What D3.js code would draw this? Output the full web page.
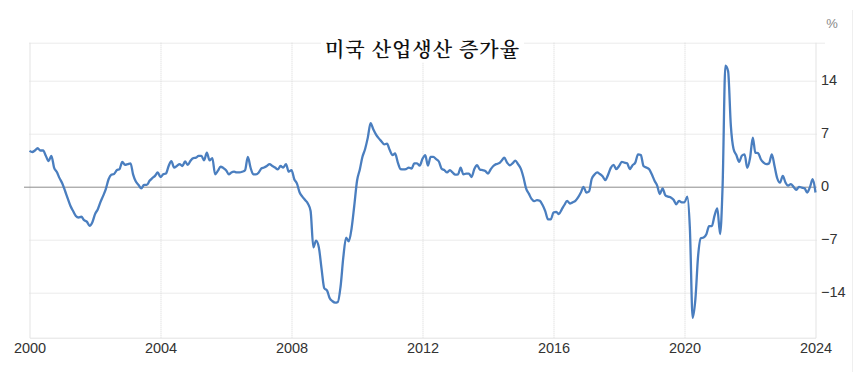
<!DOCTYPE html>
<html>
<head>
<meta charset="utf-8">
<script src="https://cdn.jsdelivr.net/npm/d3@7"></script>
<style>
    html, body { margin: 0; padding: 0; background: #fff; }
    #chart { width: 863px; height: 385px; }
    .tick text { font-family: "Liberation Sans", Arial, sans-serif; font-size: 14.5px; fill: #333; }
</style>
</head>
<body>
<div id="chart"></div>
<script>
//Datos (variación interanual mensual, %)
let y2000 = [4.75, 4.6, 4.8, 5.1, 4.8, 4.8, 4.1, 3.4, 4.1, 2.55, 1.95, 1.15];
let y2001 = [0.45, -0.55, -1.5, -2.5, -3.2, -3.85, -4.05, -3.95, -4.4, -4.6, -5.15, -4.7];
let y2002 = [-3.6, -2.95, -2.05, -1.2, -0.3, 1.0, 1.6, 1.7, 2.2, 2.35, 3.3, 2.9];
let y2003 = [3.0, 3.1, 1.65, 0.7, 0.25, -0.2, 0.25, 0.25, 0.8, 1.15, 1.45, 1.9];
let y2004 = [1.3, 1.65, 1.75, 2.75, 3.4, 2.55, 2.75, 3.0, 2.75, 3.35, 2.9, 3.45];
let y2005 = [3.8, 3.85, 4.1, 4.1, 3.5, 4.5, 3.5, 3.8, 1.65, 2.1, 2.65, 2.5];
let y2006 = [2.2, 1.65, 1.9, 2.0, 1.9, 1.9, 2.0, 2.2, 3.95, 2.55, 1.65, 1.65];
let y2007 = [1.9, 2.45, 2.55, 2.75, 3.0, 2.75, 2.55, 2.3, 2.75, 2.55, 3.0, 2.0];
let y2008 = [2.2, 1.0, 0.45, -0.75, -1.3, -1.75, -2.2, -3.2, -8.0, -7.1, -8.0, -10.8];
let y2009 = [-13.4, -13.7, -14.7, -15.1, -15.3, -15.2, -13.2, -9.3, -6.7, -7.2, -5.5, -2.5];
let y2010 = [0.8, 2.3, 3.9, 5.0, 6.5, 8.4, 7.6, 6.9, 6.4, 6.0, 5.6, 5.7];
let y2011 = [4.85, 4.2, 4.4, 3.2, 2.35, 2.3, 2.35, 2.55, 2.4, 3.1, 3.1, 2.8];
let y2012 = [3.7, 4.2, 2.8, 3.95, 3.95, 3.65, 3.35, 2.4, 2.2, 1.9, 2.2, 1.9];
let y2013 = [1.6, 1.65, 2.55, 1.65, 1.75, 1.75, 1.3, 2.35, 2.85, 2.3, 2.2, 2.1];
let y2014 = [1.75, 2.35, 2.75, 3.0, 3.1, 3.45, 3.85, 3.2, 2.85, 3.1, 3.45, 3.0];
let y2015 = [2.4, 1.2, -0.2, -0.9, -1.6, -1.9, -1.75, -1.85, -2.4, -3.2, -4.3, -4.3];
let y2016 = [-3.4, -3.3, -3.6, -3.0, -2.4, -1.85, -2.2, -2.05, -1.85, -1.4, -0.75, 0.0];
let y2017 = [-0.75, -0.6, 1.0, 1.6, 1.9, 1.7, 1.4, 0.9, 1.6, 2.5, 2.9, 2.35];
let y2018 = [2.75, 3.3, 3.2, 3.1, 2.35, 2.85, 3.2, 4.3, 4.2, 2.75, 2.55, 2.35];
let y2019 = [1.65, 0.8, 0.2, -0.95, -0.2, -1.1, -1.3, -1.4, -1.7, -2.3, -1.85, -2.05];
let y2020 = [-2.05, -1.3, -5.5, -17.3, -14.9, -9.1, -6.8, -6.7, -6.25, -5.2, -5.2, -3.8];
let y2021 = [-2.85, -6.25, 0.15, 16.0, 15.3, 8.05, 5.0, 4.2, 3.3, 4.1, 4.3, 2.5];
let y2022 = [3.8, 6.5, 4.5, 4.45, 3.65, 3.2, 3.0, 3.1, 4.3, 2.75, 1.1, 0.55];
let y2023 = [1.45, 0.55, 0.15, 0.35, 0.0, -0.4, 0.0, -0.1, -0.2, -0.75, 0.0, 1.0];
let y2024 = [-0.75];

let xTickYears = [2000, 2004, 2008, 2012, 2016, 2020, 2024];
let yTicks = [-14, -7, 0, 7, 14];
let titulo = '미국 산업생산 증가율';
let unidad = '%';

let valores = [].concat(y2000, y2001, y2002, y2003, y2004, y2005, y2006, y2007, y2008,
    y2009, y2010, y2011, y2012, y2013, y2014, y2015, y2016, y2017, y2018, y2019,
    y2020, y2021, y2022, y2023, y2024);

let data = valores.map(function(v, i) {
    return { fecha: new Date(2000, i, 1), valor: v };
});

//Medidas
let margin = {top: 42.7, right: 47.5, bottom: 47.3, left: 29.5},
    width = 863 - margin.left - margin.right,
    height = 385 - margin.top - margin.bottom;

let svg = d3.select('#chart')
    .append('svg')
      .attr('width', 863)
      .attr('height', 385);

//Marco exterior tenue
svg.append('line')
    .attr('x1', 852.5).attr('x2', 852.5)
    .attr('y1', 10).attr('y2', 372)
    .attr('stroke', '#efefef');

let g = svg.append('g')
    .attr('transform', 'translate(' + margin.left + ',' + margin.top + ')');

//Escalas
let x = d3.scaleTime()
    .domain([new Date(2000, 0, 1), new Date(2024, 0, 1)])
    .range([0, width]);

let y = d3.scaleLinear()
    .domain([-19.93, 19.04])
    .range([height, 0]);

//Rejilla horizontal punteada
g.append('g')
    .selectAll('line')
    .data(yTicks.filter(function(d) { return d != 0; }))
    .enter()
    .append('line')
    .attr('x1', 0)
    .attr('x2', width + 1)
    .attr('y1', function(d) { return Math.round(y(d)) + 0.5; })
    .attr('y2', function(d) { return Math.round(y(d)) + 0.5; })
    .attr('stroke', '#d6d6d6')
    .attr('stroke-dasharray', '1,1');

//Línea superior
g.append('line')
    .attr('x1', 0).attr('x2', width + 9)
    .attr('y1', 0.5).attr('y2', 0.5)
    .attr('stroke', '#d6d6d6')
    .attr('stroke-dasharray', '1,1');

//Rejilla vertical punteada
g.append('g')
    .selectAll('line')
    .data(xTickYears.slice(1, -1))
    .enter()
    .append('line')
    .attr('x1', function(d) { return Math.round(x(new Date(d, 0, 1))) + 0.5; })
    .attr('x2', function(d) { return Math.round(x(new Date(d, 0, 1))) + 0.5; })
    .attr('y1', 0)
    .attr('y2', height)
    .attr('stroke', '#d6d6d6')
    .attr('stroke-dasharray', '1,1');

//Bordes sólidos: izquierda, derecha, abajo
g.append('path')
    .attr('d', 'M0.5,0V' + (height + 0.5) + 'H' + (Math.round(width) + 0.5) + 'V0')
    .attr('fill', 'none')
    .attr('stroke', '#e3e3e3');

//Línea del cero
g.append('line')
    .attr('x1', -5.5).attr('x2', width + 1)
    .attr('y1', Math.round(y(0)) + 0.5).attr('y2', Math.round(y(0)) + 0.5)
    .attr('stroke', '#8c8c8c');

//Ejes
let xAxis = function(sel) {
    sel.call(d3.axisBottom(x)
        .tickValues(xTickYears.map(function(d) { return new Date(d, 0, 1); }))
        .tickFormat(d3.timeFormat('%Y'))
        .tickSize(0)
        .tickPadding(5));
    sel.call(function(s) { s.selectAll('.domain').remove(); });
};

g.append('g')
    .attr('transform', 'translate(0,' + height + ')')
    .call(xAxis);

let yAxis = function(sel) {
    sel.call(d3.axisRight(y)
        .tickValues(yTicks)
        .tickSize(0)
        .tickPadding(5.5));
    sel.call(function(s) { s.selectAll('.domain').remove(); });
    sel.call(function(s) {
        s.selectAll('.tick text')
            .attr('dy', '0.22em');
    });
};

g.append('g')
    .attr('transform', 'translate(' + width + ',0)')
    .call(yAxis);

//Unidad
svg.append('text')
    .attr('x', 832)
    .attr('y', 28)
    .attr('text-anchor', 'middle')
    .style('font-family', '"Liberation Sans", Arial, sans-serif')
    .style('font-size', '13px')
    .style('fill', '#888')
    .text(unidad);

//Serie
let line = d3.line()
    .x(function(d) { return x(d.fecha); })
    .y(function(d) { return y(d.valor); })
    .curve(d3.curveMonotoneX);

g.append('path')
    .datum(data)
    .attr('fill', 'none')
    .attr('stroke', '#4a7ebf')
    .attr('stroke-width', 2.3)
    .attr('stroke-linejoin', 'round')
    .attr('d', line);

//Título con fondo blanco
let titleG = svg.append('g');
let titleText = titleG.append('text')
    .attr('x', 422.5)
    .attr('y', 56.5)
    .attr('text-anchor', 'middle')
    .style('font-family', '"Noto Serif CJK KR", "Noto Sans CJK KR", serif')
    .style('font-size', '20px')
    .style('font-weight', 600)
    .style('letter-spacing', '1px')
    .style('fill', '#111')
    .text(titulo);

let bb = titleText.node().getBBox();
titleG.insert('rect', 'text')
    .attr('x', bb.x - 4)
    .attr('y', bb.y)
    .attr('width', bb.width + 8)
    .attr('height', bb.height)
    .attr('fill', '#fff');
</script>
</body>
</html>
